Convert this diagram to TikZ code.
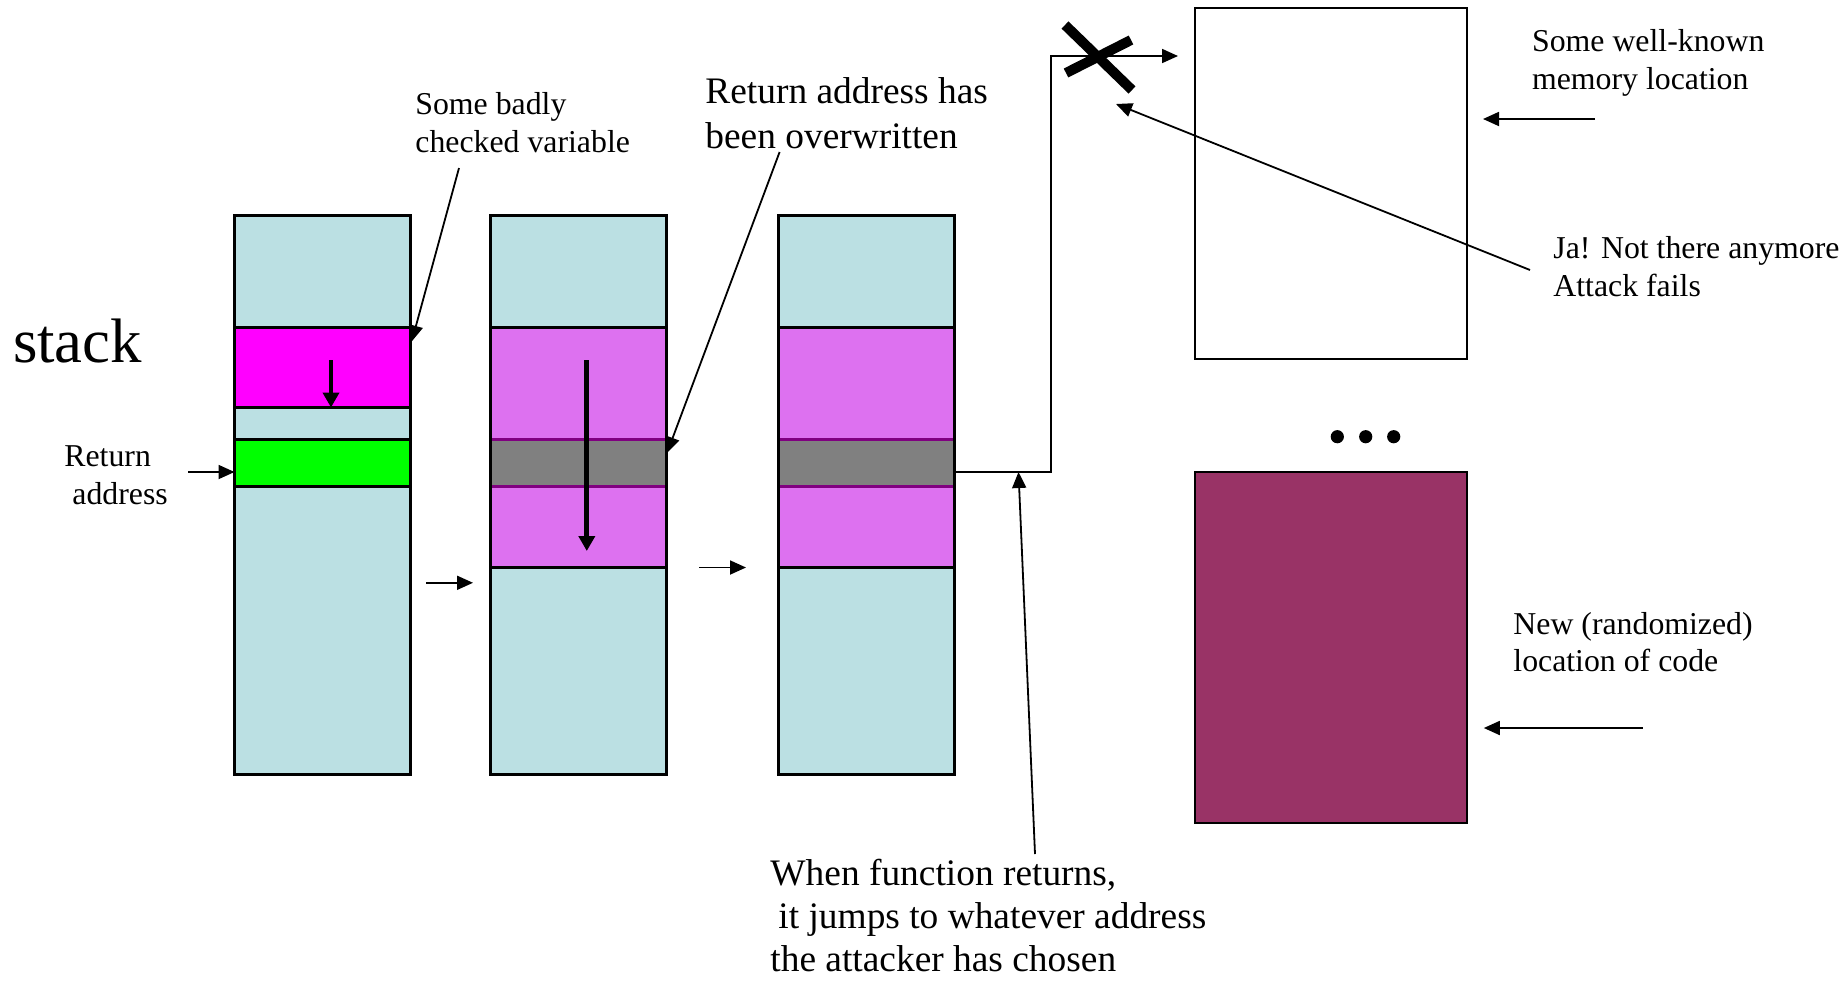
\documentclass[tikz,border=0pt]{standalone}
\usepackage{fontspec}
\setmainfont{Liberation Serif}
\usetikzlibrary{arrows.meta,calc}

\definecolor{stackblue}{RGB}{187,224,227}
\definecolor{varmag}{RGB}{255,0,255}
\definecolor{retgreen}{RGB}{0,255,0}
\definecolor{overflow}{RGB}{221,113,240}
\definecolor{smashed}{RGB}{128,128,128}
\definecolor{darkpurp}{RGB}{128,0,128}
\definecolor{codemaroon}{RGB}{153,51,102}

\begin{document}
\begin{tikzpicture}[x=0.5pt,y=-0.5pt,
  band/.style={rectangle, inner sep=0pt, outer sep=0pt, minimum width=88pt, anchor=north west},
  outline/.style={draw=black, line width=1.35pt},
  lbl/.style={anchor=base west, inner sep=0pt, font=\fontsize{15.9}{18}\selectfont},
  biglbl/.style={anchor=base west, inner sep=0pt, font=\fontsize{18.7}{22}\selectfont},
  conn/.style={line width=0.9pt, -{Triangle[length=8pt,width=7pt]}},
  fatconn/.style={line width=2pt, -{Triangle[length=7.5pt,width=8pt]}},
  membox/.style={rectangle, inner sep=0pt, outer sep=0pt, anchor=north west,
    minimum width=136pt, minimum height=175.5pt, draw=black, line width=1.4pt}
]
\useasboundingbox (0,0) rectangle (1846,980);

% ---- first stack: variable below the return address ----
\node[band, fill=stackblue, minimum height=279.5pt] (s1) at (234.5,215.5) {};
\node[band, fill=varmag, outline, minimum height=40pt] (var1) at (234.5,327.5) {};
\node[band, fill=retgreen, outline, minimum height=23.5pt] (ret1) at (234.5,439.5) {};
\node[band, outline, minimum height=279.5pt] at (234.5,215.5) {};

% ---- second stack: overflow spreads over the return address ----
\node[band, fill=stackblue, minimum height=279.5pt] (s2) at (490.5,215.5) {};
\node[band, fill=overflow, outline, minimum height=120pt] (var2) at (490.5,327.5) {};
\node[band, fill=smashed, minimum height=23.5pt] (ret2) at (490.5,439.5) {};
\draw[darkpurp, line width=1.2pt] (ret2.north west) -- (ret2.north east)
  (ret2.south west) -- (ret2.south east);
\node[band, outline, minimum height=279.5pt] at (490.5,215.5) {};

% ---- third stack: state at function return ----
\node[band, fill=stackblue, minimum height=279.5pt] (s3) at (778.5,215.5) {};
\node[band, fill=overflow, outline, minimum height=120pt] (var3) at (778.5,327.5) {};
\node[band, fill=smashed, minimum height=23.5pt] (ret3) at (778.5,439.5) {};
\draw[darkpurp, line width=1.2pt] (ret3.north west) -- (ret3.north east)
  (ret3.south west) -- (ret3.south east);
\node[band, outline, minimum height=279.5pt] at (778.5,215.5) {};

% ---- memory regions on the right ----
\node[membox] (known) at (1195,8) {};
\node[membox, fill=codemaroon] (newcode) at (1195,472) {};
\foreach \dx in {1337.3,1365.7,1393.7}
  \fill (\dx,436.7) circle (3.3pt);

% ---- texts ----
\node[inner sep=0pt, anchor=base west, font=\fontsize{31.4}{36}\selectfont] (stk) at (12.7,362) {stack};

\node[lbl] (ra1) at (64,466.5) {Return};
\node[lbl] (ra2) at (72,504) {address};

\node[lbl] (bv1) at (415,114.5) {Some badly};
\node[lbl] (bv2) at (415,152) {checked variable};

\node[biglbl] (ow1) at (705,103.5) {Return address has};
\node[biglbl] (ow2) at (705,148.5) {been overwritten};

\node[biglbl] (fr1) at (770,885.5) {When function returns,};
\node[biglbl] (fr2) at (778,928.5) {it jumps to whatever address};
\node[biglbl] (fr3) at (770,971.5) {the attacker has chosen};

\node[lbl] (wk1) at (1531.7,51.3) {Some well-known};
\node[lbl] (wk2) at (1531.7,89) {memory location};

\node[lbl] (ja1) at (1553,258.5) {Ja! Not there anymore};
\node[lbl] (ja2) at (1553,296) {Attack fails};

\node[lbl] (nc1) at (1513,634) {New (randomized)};
\node[lbl] (nc2) at (1513,671.5) {location of code};

% ---- connectors ----
\coordinate (raTail) at (188,472);
\draw[conn] (raTail) -- (raTail -| ret1.west);

\coordinate (grow1) at (331,360);
\draw[fatconn] (grow1) -- (grow1 |- var1.south);

\coordinate (grow2) at (586.8,360);
\draw[line width=2.5pt, -{Triangle[length=7.5pt,width=8pt]}] (grow2) -- (586.8,551);

\coordinate (stepA) at (426,582.8);
\draw[conn] (stepA) -- (473,582.8);
\coordinate (stepB) at (699,567.5);
\draw[conn] (stepB) -- (746,567.5);

\coordinate (bvTail) at (459,168);
\draw[conn] (bvTail) -- ($(var1.north east)+(1.2,14)$);

\coordinate (owTail) at (779.6,152);
\draw[conn] (owTail) -- (667,453);

% jump taken on return
\coordinate (jumpOut) at (954.5,472);
\coordinate (jumpUp) at (1051,56);
\coordinate (jumpTip) at (1178,56);
\draw[conn] (jumpOut) -| (jumpUp) -- (jumpTip);

% cross over the old target
\draw[line width=5pt] (1065,25) -- (1132,90);
\draw[line width=5pt] (1066,73) -- (1131,40);

\coordinate (jaTail) at (1530,270);
\draw[conn] (jaTail) -- (1116,104);

\coordinate (frTail) at (1035,854);
\draw[conn] (frTail) -- (1018.5,472);

\coordinate (wkTail) at (1595,119);
\draw[conn] (wkTail) -- (1483,119);

\coordinate (ncTail) at (1642.7,728);
\draw[conn] (ncTail) -- (1483.8,728);
\end{tikzpicture}
\end{document}
